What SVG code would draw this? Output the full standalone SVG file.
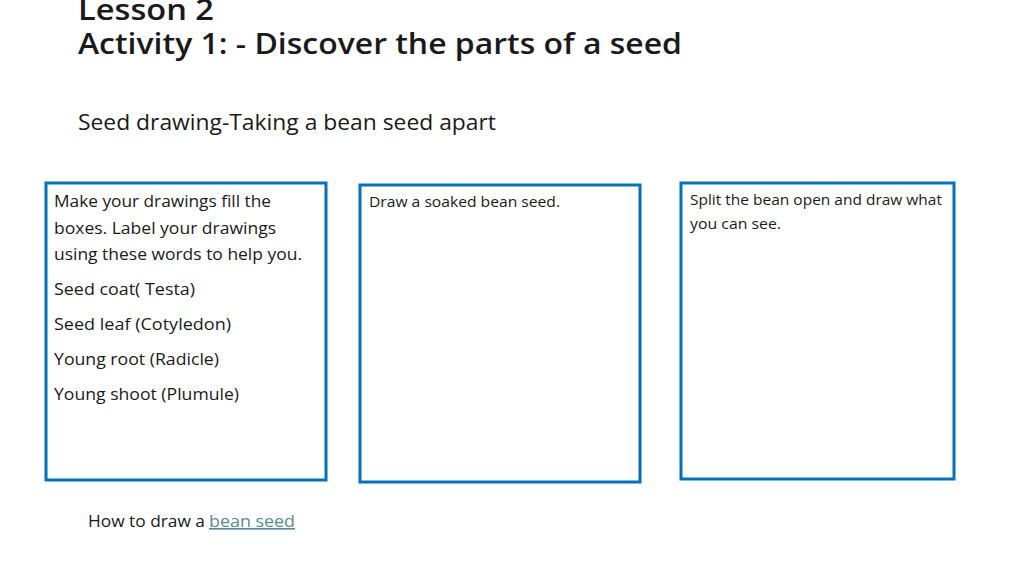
<svg xmlns="http://www.w3.org/2000/svg" width="1024" height="576" viewBox="0 0 1024 576">
<style>
text{font-family:"Open Sans","Liberation Sans",sans-serif;fill:#1a1a1a}
.t{font-size:29px;font-weight:600}
.b{font-size:16.5px}
.s{font-size:14.5px}
.box{fill:none;stroke:#0070C0;stroke-width:3}
</style>
<rect width="1024" height="576" fill="#fff"/>
<g id="title">
<text class="t" x="78" y="20" textLength="136" lengthAdjust="spacingAndGlyphs">Lesson 2</text>
<text class="t" x="78" y="54" textLength="604" lengthAdjust="spacingAndGlyphs">Activity 1: - Discover the parts of a seed</text>
<text x="78" y="130" style="font-size:21.5px" textLength="418" lengthAdjust="spacingAndGlyphs">Seed drawing-Taking a bean seed apart</text>
</g>
<g id="box1">
<rect class="box" x="46" y="183" width="280" height="297"/>
<text class="b" x="54" y="207" textLength="217" lengthAdjust="spacingAndGlyphs">Make your drawings fill the</text>
<text class="b" x="54" y="234" textLength="222" lengthAdjust="spacingAndGlyphs">boxes. Label your drawings</text>
<text class="b" x="54" y="260" textLength="248" lengthAdjust="spacingAndGlyphs">using these words to help you.</text>
<text class="b" x="54" y="295" textLength="141" lengthAdjust="spacingAndGlyphs">Seed coat( Testa)</text>
<text class="b" x="54" y="330" textLength="177" lengthAdjust="spacingAndGlyphs">Seed leaf (Cotyledon)</text>
<text class="b" x="54" y="365" textLength="165" lengthAdjust="spacingAndGlyphs">Young root (Radicle)</text>
<text class="b" x="54" y="400" textLength="185" lengthAdjust="spacingAndGlyphs">Young shoot (Plumule)</text>
</g>
<g id="box2">
<rect class="box" x="360" y="185" width="280" height="297"/>
<text class="s" x="369" y="207" textLength="191" lengthAdjust="spacingAndGlyphs">Draw a soaked bean seed.</text>
</g>
<g id="box3">
<rect class="box" x="681" y="183" width="273" height="296"/>
<text class="s" x="690" y="205" textLength="252" lengthAdjust="spacingAndGlyphs">Split the bean open and draw what</text>
<text class="s" x="690" y="229" textLength="91" lengthAdjust="spacingAndGlyphs">you can see.</text>
</g>
<g id="link">
<text class="b" x="88" y="527" textLength="117" lengthAdjust="spacingAndGlyphs">How to draw a</text>
<text class="b" x="209" y="527" textLength="86" lengthAdjust="spacingAndGlyphs" style="fill:#5b8a94;text-decoration:underline">bean seed</text>
</g>
<g id="connectors"/>
</svg>
